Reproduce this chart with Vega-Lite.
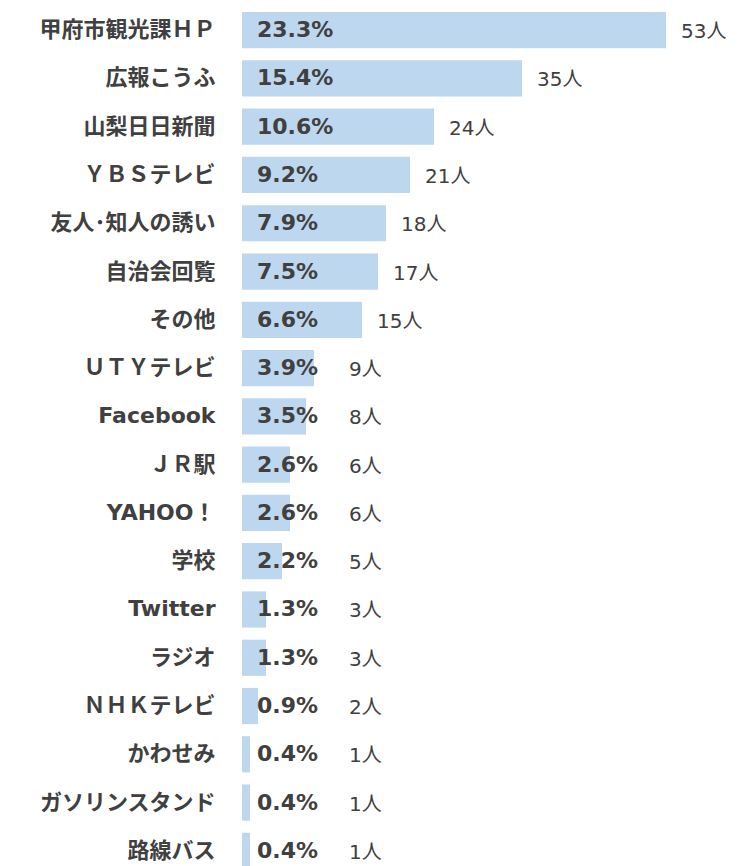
{
  "$schema": "https://vega.github.io/schema/vega-lite/v6.json",
  "autosize": {"type": "none"},
  "padding": {"left": 242, "top": 6, "right": 0, "bottom": 0},
  "width": 496,
  "height": 869,
  "background": "white",
  "config": {"view": {"stroke": null}, "font": "DejaVu Sans, Noto Sans CJK JP"},
  "data": {
    "values": [
      {"source": "甲府市観光課ＨＰ", "count": 53, "pct": 0.233},
      {"source": "広報こうふ", "count": 35, "pct": 0.154},
      {"source": "山梨日日新聞", "count": 24, "pct": 0.106},
      {"source": "ＹＢＳテレビ", "count": 21, "pct": 0.092},
      {"source": "友人･知人の誘い", "count": 18, "pct": 0.079},
      {"source": "自治会回覧", "count": 17, "pct": 0.075},
      {"source": "その他", "count": 15, "pct": 0.066},
      {"source": "ＵＴＹテレビ", "count": 9, "pct": 0.039},
      {"source": "Facebook", "count": 8, "pct": 0.035},
      {"source": "ＪＲ駅", "count": 6, "pct": 0.026},
      {"source": "YAHOO！", "count": 6, "pct": 0.026},
      {"source": "学校", "count": 5, "pct": 0.022},
      {"source": "Twitter", "count": 3, "pct": 0.013},
      {"source": "ラジオ", "count": 3, "pct": 0.013},
      {"source": "ＮＨＫテレビ", "count": 2, "pct": 0.009},
      {"source": "かわせみ", "count": 1, "pct": 0.004},
      {"source": "ガソリンスタンド", "count": 1, "pct": 0.004},
      {"source": "路線バス", "count": 1, "pct": 0.004}
    ]
  },
  "transform": [
    {"calculate": "datum.count + '人'", "as": "countLabel"},
    {"calculate": "max(datum.count, 11.5)", "as": "labelPos"}
  ],
  "encoding": {
    "y": {
      "field": "source",
      "type": "nominal",
      "sort": null,
      "scale": {"paddingInner": 0.25, "paddingOuter": 0.125},
      "axis": {
        "title": null,
        "domain": false,
        "ticks": false,
        "labelPadding": 27,
        "labelFontSize": 22,
        "labelFontWeight": "bold",
        "labelColor": "#404040",
        "labelLimit": 0,
        "labelFont": "DejaVu Sans, Noto Sans CJK JP"
      }
    }
  },
  "layer": [
    {
      "mark": {"type": "bar", "color": "#bdd7ee"},
      "encoding": {
        "x": {"field": "count", "type": "quantitative", "scale": {"domain": [0, 62], "nice": false}, "axis": null}
      }
    },
    {
      "mark": {"type": "text", "align": "left", "baseline": "middle", "dx": 15, "fontSize": 22, "fontWeight": "bold", "color": "#404040"},
      "encoding": {
        "x": {"datum": 0, "type": "quantitative"},
        "text": {"field": "pct", "type": "quantitative", "format": ".1%"}
      }
    },
    {
      "mark": {"type": "text", "align": "left", "baseline": "middle", "dx": 15, "dy": 2, "fontSize": 20, "color": "#404040"},
      "encoding": {
        "x": {"field": "labelPos", "type": "quantitative"},
        "text": {"field": "countLabel", "type": "nominal"}
      }
    }
  ]
}
